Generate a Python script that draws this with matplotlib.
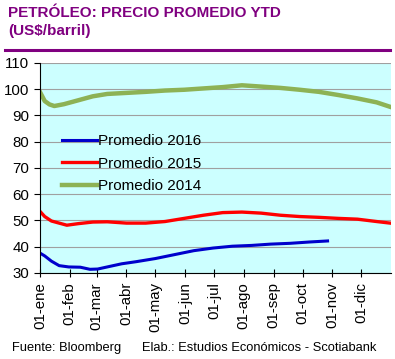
import matplotlib
matplotlib.use("Agg")
import matplotlib.pyplot as plt
from matplotlib.lines import Line2D

plt.rcParams['font.family'] = ['Liberation Sans', 'DejaVu Sans']

# day of year for each reading
dias_2014 = [0, 5, 10, 15, 25, 40, 55, 70, 90, 110, 130, 150, 170, 190, 210, 230, 250, 270, 290, 310, 330, 350, 364]
prom_2014 = [99.0, 95.5, 94.2, 93.6, 94.3, 95.8, 97.3, 98.2, 98.6, 99.0, 99.5, 99.8, 100.3, 100.8, 101.5, 101.0, 100.5, 99.8, 99.0, 97.8, 96.5, 95.0, 93.3]

dias_2015 = [0, 5, 12, 20, 28, 40, 55, 70, 90, 110, 130, 150, 170, 190, 210, 230, 250, 270, 290, 310, 330, 350, 364]
prom_2015 = [53.5, 51.5, 49.8, 49.0, 48.2, 48.8, 49.4, 49.5, 49.0, 49.0, 49.6, 50.8, 52.0, 53.0, 53.2, 52.8, 52.0, 51.5, 51.2, 50.8, 50.5, 49.6, 49.0]

dias_2016 = [0, 5, 12, 20, 30, 42, 52, 60, 70, 85, 100, 120, 140, 160, 180, 200, 220, 240, 260, 280, 299]
prom_2016 = [37.6, 36.5, 34.5, 32.8, 32.3, 32.2, 31.4, 31.5, 32.3, 33.5, 34.3, 35.5, 37.0, 38.5, 39.5, 40.2, 40.5, 41.0, 41.3, 41.8, 42.2]

inicio_mes = [0, 31, 59, 90, 120, 151, 181, 212, 243, 273, 304, 334]
etiquetas_mes = ['01-ene', '01-feb', '01-mar', '01-abr', '01-may', '01-jun',
                 '01-jul', '01-ago', '01-sep', '01-oct', '01-nov', '01-dic']

morado = '#800080'

fig = plt.figure(figsize=(3.95, 3.59), dpi=100)
ax = fig.add_axes([0.101, 0.2396, 0.889, 0.585])
ax.set_facecolor('#CCFFFF')

ax.plot(dias_2016, prom_2016, color='#0000CC', lw=2.2, label='Promedio 2016')
ax.plot(dias_2015, prom_2015, color='#FF0000', lw=2.4, label='Promedio 2015')
ax.plot(dias_2014, prom_2014, color='#8DB255', lw=3.2, label='Promedio 2014')

ax.set_xlim(0, 365)
ax.set_ylim(30, 110)
ax.set_yticks(range(30, 111, 10))
ax.set_xticks(inicio_mes)
ax.set_xticklabels(etiquetas_mes, rotation=90)
ax.tick_params(axis='both', labelsize=10.8, length=4, color='black')
ax.tick_params(axis='x', direction='inout', length=6)
ax.grid(axis='y', color='#A0A0A0', lw=0.8)
ax.set_axisbelow(True)
for s in ['top', 'right']:
    ax.spines[s].set_visible(False)

ax.legend(loc='upper left', bbox_to_anchor=(0.045, 0.69), frameon=False,
          fontsize=11, handlelength=2.3, handletextpad=0.1, labelspacing=0.55,
          borderaxespad=0)

fig.text(0.02, 0.965, 'PETRÓLEO: PRECIO PROMEDIO YTD', color=morado,
         fontsize=11, fontweight='bold', va='center')
fig.text(0.02, 0.915, '(US$/barril)', color=morado,
         fontsize=11, fontweight='bold', va='center')
fig.add_artist(Line2D([0.013, 0.987], [0.862, 0.862], color=morado, lw=2.2,
                      transform=fig.transFigure))

fig.text(0.03, 0.03, 'Fuente: Bloomberg', fontsize=9.3, va='center')
fig.text(0.36, 0.03, 'Elab.: Estudios Económicos - Scotiabank', fontsize=9.3, va='center')

fig.savefig('out.png', dpi=100)
